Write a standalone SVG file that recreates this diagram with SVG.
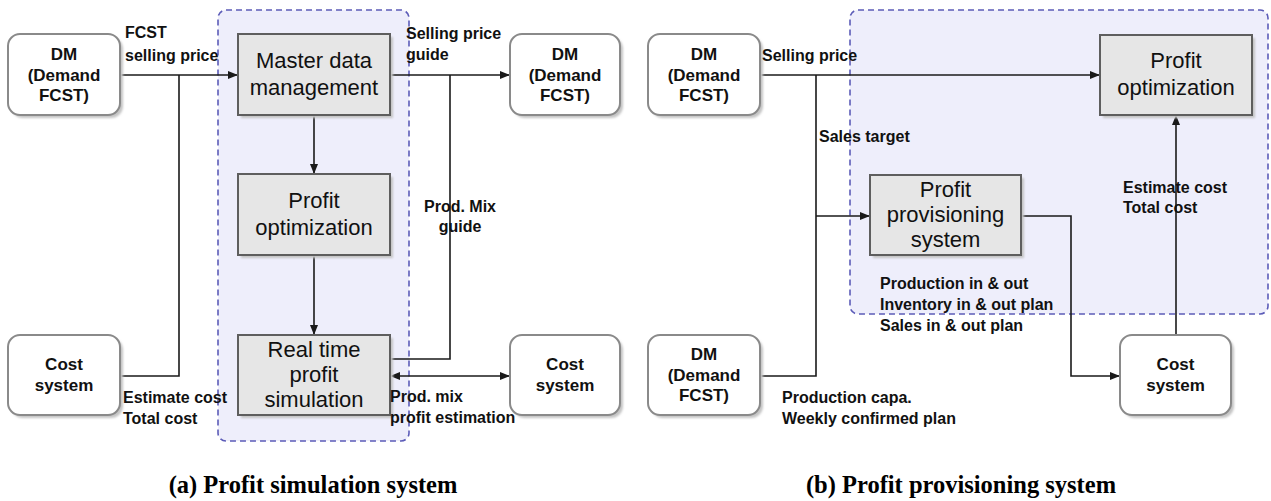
<svg xmlns="http://www.w3.org/2000/svg" width="1271" height="501" viewBox="0 0 1271 501">
  <style>
    .region { fill: #eeeefb; stroke: #5c5cb8; stroke-width: 1.6; stroke-dasharray: 6 4; }
    .shadow { fill: #c4c4c4; filter: url(#soft); }
    .rbox { fill: #ffffff; stroke: #8a8a8a; stroke-width: 2; }
    .gbox { fill: #e6e6e6; stroke: #5e5e5e; stroke-width: 2; }
    .wire { fill: none; stroke: #1a1a1a; stroke-width: 1.6; }
    .ntext { font-family: "Liberation Sans", Arial, sans-serif; font-weight: bold; font-size: 17px; fill: #111; text-anchor: middle; }
    .gtext { font-family: "Liberation Sans", Arial, sans-serif; font-size: 22px; fill: #111; text-anchor: middle; }
    .label { font-family: "Liberation Sans", Arial, sans-serif; font-weight: bold; font-size: 16px; fill: #111; }
    .caption { font-family: "Liberation Serif", "Times New Roman", serif; font-weight: bold; font-size: 24.5px; fill: #000; text-anchor: middle; }
  </style>
  <defs>
    <filter id="soft" x="-10%" y="-10%" width="120%" height="120%">
      <feGaussianBlur stdDeviation="1"/>
    </filter>
    <marker id="arrow" viewBox="0 0 10 10" refX="9" refY="5" markerWidth="10" markerHeight="10" markerUnits="userSpaceOnUse" orient="auto-start-reverse">
      <path d="M0,1 L10,5 L0,9 Z" fill="#1a1a1a"/>
    </marker>
  </defs>

  <rect width="1271" height="501" fill="#ffffff"/>

  <!-- dashed system boundaries -->
  <g id="region-a">
    <rect class="region" x="218" y="10" width="191" height="431" rx="8"/>
  </g>
  <g id="region-b">
    <rect class="region" x="850" y="10" width="418" height="304" rx="8"/>
  </g>

  <!-- connectors -->
  <g id="connectors">
    <!-- panel (a) -->
    <path class="wire" d="M120,75 H237" marker-end="url(#arrow)"/>
    <path class="wire" d="M179,75 V376 H120"/>
    <path class="wire" d="M314,115 V173" marker-end="url(#arrow)"/>
    <path class="wire" d="M314,255 V334" marker-end="url(#arrow)"/>
    <path class="wire" d="M390,75 H509" marker-end="url(#arrow)"/>
    <path class="wire" d="M450,75 V359 H390"/>
    <path class="wire" d="M391,376 H509" marker-start="url(#arrow)" marker-end="url(#arrow)"/>
    <!-- panel (b) -->
    <path class="wire" d="M760,75 H1099" marker-end="url(#arrow)"/>
    <path class="wire" d="M816,75 V376 H760"/>
    <path class="wire" d="M816,216 H869" marker-end="url(#arrow)"/>
    <path class="wire" d="M1021,216 H1071 V376 H1119" marker-end="url(#arrow)"/>
    <path class="wire" d="M1176,335 V116" marker-end="url(#arrow)"/>
  </g>

  <!-- panel (a) nodes -->
  <g id="dm-a-in">
    <rect class="shadow" x="11" y="37" width="112" height="81" rx="12"/>
    <rect class="rbox" x="8" y="34" width="112" height="81" rx="12"/>
    <text class="ntext" x="64" y="60">DM</text>
    <text class="ntext" x="64" y="81">(Demand</text>
    <text class="ntext" x="64" y="101">FCST)</text>
  </g>
  <g id="cost-a-in">
    <rect class="shadow" x="11" y="338" width="112" height="80" rx="12"/>
    <rect class="rbox" x="8" y="335" width="112" height="80" rx="12"/>
    <text class="ntext" x="64" y="370">Cost</text>
    <text class="ntext" x="64" y="391">system</text>
  </g>
  <g id="master-data">
    <rect class="shadow" x="241" y="37" width="152" height="81"/>
    <rect class="gbox" x="238" y="34" width="152" height="81"/>
    <text class="gtext" x="314" y="68">Master data</text>
    <text class="gtext" x="314" y="95">management</text>
  </g>
  <g id="profit-opt-a">
    <rect class="shadow" x="241" y="177" width="152" height="81"/>
    <rect class="gbox" x="238" y="174" width="152" height="81"/>
    <text class="gtext" x="314" y="208">Profit</text>
    <text class="gtext" x="314" y="235">optimization</text>
  </g>
  <g id="realtime-sim">
    <rect class="shadow" x="241" y="338" width="152" height="80"/>
    <rect class="gbox" x="238" y="335" width="152" height="80"/>
    <text class="gtext" x="314" y="357">Real time</text>
    <text class="gtext" x="314" y="382">profit</text>
    <text class="gtext" x="314" y="407">simulation</text>
  </g>
  <g id="dm-a-out">
    <rect class="shadow" x="513" y="37" width="110" height="81" rx="12"/>
    <rect class="rbox" x="510" y="34" width="110" height="81" rx="12"/>
    <text class="ntext" x="565" y="60">DM</text>
    <text class="ntext" x="565" y="81">(Demand</text>
    <text class="ntext" x="565" y="101">FCST)</text>
  </g>
  <g id="cost-a-out">
    <rect class="shadow" x="513" y="338" width="110" height="80" rx="12"/>
    <rect class="rbox" x="510" y="335" width="110" height="80" rx="12"/>
    <text class="ntext" x="565" y="370">Cost</text>
    <text class="ntext" x="565" y="391">system</text>
  </g>

  <!-- panel (b) nodes -->
  <g id="dm-b-top">
    <rect class="shadow" x="651" y="37" width="112" height="81" rx="12"/>
    <rect class="rbox" x="648" y="34" width="112" height="81" rx="12"/>
    <text class="ntext" x="704" y="60">DM</text>
    <text class="ntext" x="704" y="81">(Demand</text>
    <text class="ntext" x="704" y="101">FCST)</text>
  </g>
  <g id="dm-b-bottom">
    <rect class="shadow" x="651" y="338" width="112" height="80" rx="12"/>
    <rect class="rbox" x="648" y="335" width="112" height="80" rx="12"/>
    <text class="ntext" x="704" y="360">DM</text>
    <text class="ntext" x="704" y="381">(Demand</text>
    <text class="ntext" x="704" y="401">FCST)</text>
  </g>
  <g id="profit-opt-b">
    <rect class="shadow" x="1103" y="38" width="152" height="80"/>
    <rect class="gbox" x="1100" y="35" width="152" height="80"/>
    <text class="gtext" x="1176" y="68">Profit</text>
    <text class="gtext" x="1176" y="95">optimization</text>
  </g>
  <g id="provisioning">
    <rect class="shadow" x="873" y="178" width="151" height="80"/>
    <rect class="gbox" x="870" y="175" width="151" height="80"/>
    <text class="gtext" x="945.5" y="197">Profit</text>
    <text class="gtext" x="945.5" y="222">provisioning</text>
    <text class="gtext" x="945.5" y="247">system</text>
  </g>
  <g id="cost-b">
    <rect class="shadow" x="1123" y="338" width="111" height="80" rx="12"/>
    <rect class="rbox" x="1120" y="335" width="111" height="80" rx="12"/>
    <text class="ntext" x="1175.5" y="370">Cost</text>
    <text class="ntext" x="1175.5" y="391">system</text>
  </g>

  <!-- flow labels -->
  <g id="labels">
    <text class="label" x="125" y="38">FCST</text>
    <text class="label" x="125" y="61">selling price</text>
    <text class="label" x="406" y="39">Selling price</text>
    <text class="label" x="406" y="60">guide</text>
    <text class="label" x="460" y="212" text-anchor="middle">Prod. Mix</text>
    <text class="label" x="460" y="232" text-anchor="middle">guide</text>
    <text class="label" x="123" y="403">Estimate cost</text>
    <text class="label" x="123" y="424">Total cost</text>
    <text class="label" x="390" y="402">Prod. mix</text>
    <text class="label" x="390" y="423">profit estimation</text>

    <text class="label" x="762" y="61">Selling price</text>
    <text class="label" x="819" y="142">Sales target</text>
    <text class="label" x="1123" y="193">Estimate cost</text>
    <text class="label" x="1123" y="213">Total cost</text>
    <text class="label" x="880" y="289">Production in &amp; out</text>
    <text class="label" x="880" y="310">Inventory in &amp; out plan</text>
    <text class="label" x="880" y="331">Sales in &amp; out plan</text>
    <text class="label" x="782" y="403">Production capa.</text>
    <text class="label" x="782" y="424">Weekly confirmed plan</text>
  </g>

  <!-- captions -->
  <g id="captions">
    <text class="caption" x="313" y="493">(a) Profit simulation system</text>
    <text class="caption" x="961" y="493">(b) Profit provisioning system</text>
  </g>
</svg>
